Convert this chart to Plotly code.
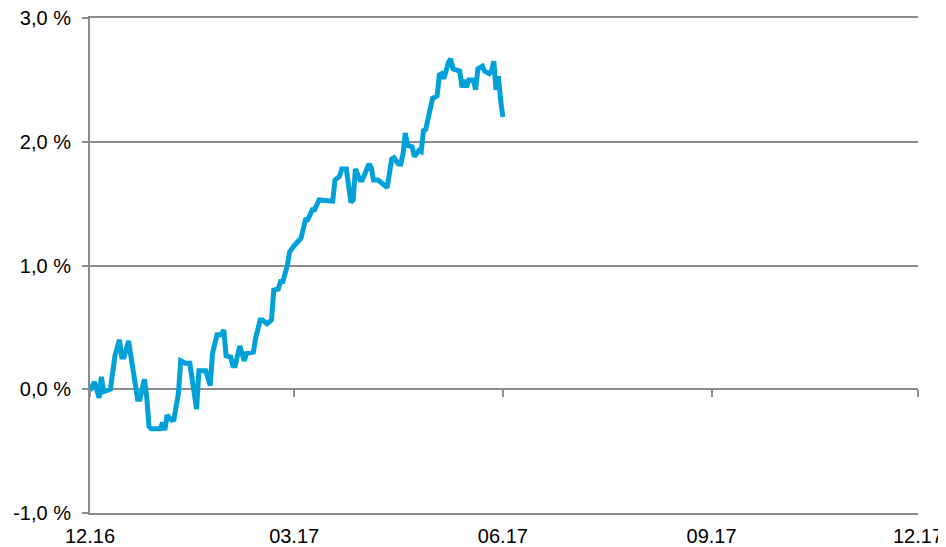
import plotly.graph_objects as go

dates = [
    "2016-12-01", "2016-12-03", "2016-12-05", "2016-12-06", "2016-12-07", "2016-12-09",
    "2016-12-10", "2016-12-12", "2016-12-14", "2016-12-15", "2016-12-16", "2016-12-18",
    "2016-12-21", "2016-12-22", "2016-12-23", "2016-12-25", "2016-12-26", "2016-12-27",
    "2016-12-28", "2016-12-30", "2017-01-01", "2017-01-02", "2017-01-03", "2017-01-04",
    "2017-01-06", "2017-01-07", "2017-01-09", "2017-01-10", "2017-01-12", "2017-01-14",
    "2017-01-15", "2017-01-17", "2017-01-18", "2017-01-21", "2017-01-23", "2017-01-24",
    "2017-01-26", "2017-01-28", "2017-01-29", "2017-01-30", "2017-02-01", "2017-02-02",
    "2017-02-03", "2017-02-05", "2017-02-07", "2017-02-08", "2017-02-11", "2017-02-12",
    "2017-02-14", "2017-02-15", "2017-02-17", "2017-02-19", "2017-02-20", "2017-02-22",
    "2017-02-23", "2017-02-24", "2017-02-26", "2017-02-27", "2017-03-01", "2017-03-03",
    "2017-03-04", "2017-03-06", "2017-03-07", "2017-03-09", "2017-03-10", "2017-03-12",
    "2017-03-15", "2017-03-18", "2017-03-19", "2017-03-21", "2017-03-22", "2017-03-24",
    "2017-03-26", "2017-03-27", "2017-03-28", "2017-03-30", "2017-03-31", "2017-04-03",
    "2017-04-04", "2017-04-05", "2017-04-07", "2017-04-09", "2017-04-11", "2017-04-13",
    "2017-04-14", "2017-04-16", "2017-04-17", "2017-04-18", "2017-04-19", "2017-04-20",
    "2017-04-22", "2017-04-23", "2017-04-25", "2017-04-26", "2017-04-27", "2017-04-28",
    "2017-04-30", "2017-05-01", "2017-05-03", "2017-05-04", "2017-05-05", "2017-05-06",
    "2017-05-08", "2017-05-09", "2017-05-10", "2017-05-12", "2017-05-13", "2017-05-14",
    "2017-05-15", "2017-05-16", "2017-05-17", "2017-05-19", "2017-05-20", "2017-05-21",
    "2017-05-23", "2017-05-24", "2017-05-26", "2017-05-27", "2017-05-28", "2017-05-29",
    "2017-05-30", "2017-05-31", "2017-06-01",
]

values = [
    -0.01, 0.06, -0.07, 0.10, -0.02, 0.00,
    0.00, 0.27, 0.40, 0.26, 0.26, 0.39,
    0.07, -0.08, -0.08, 0.08, -0.06, -0.30,
    -0.32, -0.32, -0.32, -0.27, -0.33, -0.21,
    -0.25, -0.245, -0.03, 0.23, 0.21, 0.21,
    0.07, -0.16, 0.15, 0.15, 0.03, 0.29,
    0.44, 0.44, 0.48, 0.27, 0.26, 0.19,
    0.19, 0.35, 0.23, 0.29, 0.30, 0.41,
    0.56, 0.56, 0.53, 0.56, 0.80, 0.81,
    0.87, 0.87, 1.00, 1.11, 1.16, 1.21,
    1.22, 1.37, 1.37, 1.45, 1.45, 1.53,
    1.52, 1.52, 1.69, 1.72, 1.78, 1.78,
    1.51, 1.53, 1.78, 1.69, 1.69, 1.82,
    1.79, 1.69, 1.69, 1.66, 1.63, 1.86,
    1.87, 1.82, 1.82, 1.90, 2.07, 1.97,
    1.96, 1.88, 1.93, 1.92, 2.09, 2.10,
    2.25, 2.35, 2.37, 2.54, 2.55, 2.51,
    2.64, 2.67, 2.59, 2.58, 2.57, 2.44,
    2.50, 2.44, 2.50, 2.50, 2.42, 2.59,
    2.61, 2.57, 2.55, 2.57, 2.65, 2.42,
    2.53, 2.34, 2.20,
]

x_tick_vals = ["2016-12-01", "2017-03-01", "2017-06-01", "2017-09-01", "2017-12-01"]
x_tick_text = ["12.16", "03.17", "06.17", "09.17", "12.17"]
y_tick_vals = [-1, 0, 1, 2, 3]
y_tick_text = ["-1,0 %", "0,0 %", "1,0 %", "2,0 %", "3,0 %"]

x_range = ["2016-12-01", "2017-12-01"]
grid_color = "#8c8c8c"
font = dict(family="Liberation Sans, Arial, sans-serif", size=20, color="#000000")

fig = go.Figure()
fig.add_trace(go.Scatter(
    x=dates, y=values, mode="lines",
    line=dict(color="#00a0d8", width=5),
    showlegend=False, hoverinfo="skip",
))
# invisible helper trace so the zero-line tick axis is drawn
fig.add_trace(go.Scatter(
    x=x_range, y=[None, None], xaxis="x2", mode="lines",
    showlegend=False, hoverinfo="skip",
))

# the page places the figure 8px in from the top-left corner
fig.update_layout(
    width=946, height=547,
    margin=dict(l=82, r=36, t=10, b=42),
    paper_bgcolor="white", plot_bgcolor="white",
    font=font,
    xaxis=dict(
        type="date", range=x_range,
        tickvals=x_tick_vals, ticktext=x_tick_text,
        showgrid=False, zeroline=False,
        showline=True, mirror=True, linecolor=grid_color, linewidth=2,
        ticks="", ticklabelstandoff=4, ticklabeloverflow="allow",
        tickfont=font, automargin=False,
    ),
    xaxis2=dict(
        type="date", range=x_range, overlaying="x",
        anchor="free", position=0.25, side="bottom",
        tickvals=x_tick_vals, showticklabels=False,
        ticks="outside", ticklen=7, tickwidth=2, tickcolor=grid_color,
        showgrid=False, zeroline=False, showline=False, automargin=False,
    ),
    yaxis=dict(
        range=[-1, 3],
        tickvals=y_tick_vals, ticktext=y_tick_text,
        showgrid=True, gridcolor=grid_color, gridwidth=2,
        zeroline=False,
        showline=True, linecolor=grid_color, linewidth=2,
        ticks="outside", ticklen=6, tickwidth=2, tickcolor=grid_color,
        ticklabelstandoff=7, ticklabeloverflow="allow",
        tickfont=font, automargin=False,
    ),
)

fig.write_html("out.html")
